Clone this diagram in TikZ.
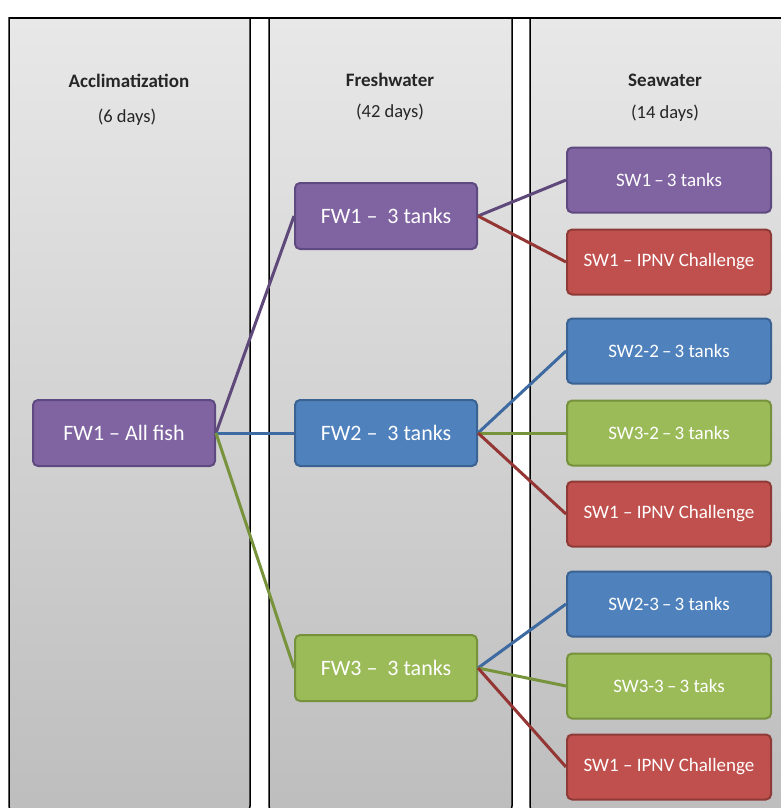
\documentclass[tikz,border=0pt]{standalone}
\usepackage{fontspec}
\setmainfont{Carlito}
\definecolor{pfill}{HTML}{8064A2}\definecolor{pdraw}{HTML}{5E4A80}\definecolor{pline}{HTML}{5F497A}
\definecolor{bfill}{HTML}{4F81BD}\definecolor{bdraw}{HTML}{3A6393}\definecolor{bline}{HTML}{3D6AA0}
\definecolor{rfill}{HTML}{C0504D}\definecolor{rdraw}{HTML}{8E3B38}\definecolor{rline}{HTML}{943634}
\definecolor{gfill}{HTML}{9BBB59}\definecolor{gdraw}{HTML}{76923C}\definecolor{gline}{HTML}{77933C}
\definecolor{coltop}{HTML}{E8E8E8}\definecolor{colbot}{HTML}{BDBDBD}
\begin{document}
\begin{tikzpicture}[x=1pt,y=-1pt,
  column/.style={draw=black,line width=1.5pt,top color=coltop,bottom color=colbot},
  head/.style={font=\fontsize{19}{22}\selectfont\bfseries,text=black!85},
  sub/.style={font=\fontsize{18.5}{22}\selectfont,text=black!85},
  fwbox/.style={rounded corners=5pt,line width=2pt,minimum width=182pt,minimum height=66pt,text=white,font=\fontsize{22}{26}\selectfont,inner sep=0pt},
  swbox/.style={rounded corners=5pt,line width=2pt,minimum width=204pt,minimum height=65pt,text=white,font=\fontsize{19}{22}\selectfont,inner sep=0pt},
  purp/.style={fill=pfill,draw=pdraw},
  blu/.style={fill=bfill,draw=bdraw},
  redd/.style={fill=rfill,draw=rdraw},
  grn/.style={fill=gfill,draw=gdraw},
  conn/.style={line width=3pt}]
\useasboundingbox (0,0) rectangle (781,808);
\fill[white] (0,0) rectangle (781,808);
% columns
\path[column] (9,18) [rounded corners=12pt] -- (9,818) -- (250,818) [sharp corners] -- (250,18) -- cycle;
\path[column] (269,18) [rounded corners=12pt] -- (269,818) -- (512,818) [sharp corners] -- (512,18) -- cycle;
\path[column] (530,18) [rounded corners=12pt] -- (530,818) -- (800,818) [sharp corners] -- (800,18) -- cycle;
\draw[line width=1.5pt] (9,18) -- (781,18);
% headers
\node[head] (h1) at (129,81) {Acclimatization};
\node[sub] (s1) at (127,117) {(6 days)};
\node[head] (h2) at (390,80) {Freshwater};
\node[sub] (s2) at (390,112) {(42 days)};
\node[head] (h3) at (665,80) {Seawater};
\node[sub] (s3) at (665,113) {(14 days)};
% nodes
\node[fwbox,purp] (all) at (124,433) {FW1 – All fish};
\node[fwbox,purp] (fw1) at (386,216) {FW1 –\ \ 3 tanks};
\node[fwbox,blu]  (fw2) at (386,433) {FW2 –\ \ 3 tanks};
\node[fwbox,grn]  (fw3) at (386,668) {FW3 –\ \ 3 tanks};
\node[swbox,purp] (sw11) at (669,180) {SW1\,–\,3 tanks};
\node[swbox,redd] (sw12) at (669,262) {SW1 – IPNV Challenge};
\node[swbox,blu]  (sw21) at (669,351) {SW2-2\,–\,3 tanks};
\node[swbox,grn]  (sw22) at (669,433) {SW3-2\,–\,3 tanks};
\node[swbox,redd] (sw23) at (669,514) {SW1 – IPNV Challenge};
\node[swbox,blu]  (sw31) at (669,604) {SW2-3\,–\,3 tanks};
\node[swbox,grn]  (sw32) at (669,686) {SW3-3\,–\,3 taks};
\node[swbox,redd] (sw33) at (669,767) {SW1 – IPNV Challenge};
% connectors
\draw[conn,pline] (all.east) -- (fw1.west);
\draw[conn,bline] (all.east) -- (fw2.west);
\draw[conn,gline] (all.east) -- (fw3.west);
\draw[conn,pline] (fw1.east) -- (sw11.west);
\draw[conn,rline] (fw1.east) -- (sw12.west);
\draw[conn,bline] (fw2.east) -- (sw21.west);
\draw[conn,gline] (fw2.east) -- (sw22.west);
\draw[conn,rline] (fw2.east) -- (sw23.west);
\draw[conn,bline] (fw3.east) -- (sw31.west);
\draw[conn,gline] (fw3.east) -- (sw32.west);
\draw[conn,rline] (fw3.east) -- (sw33.west);
\end{tikzpicture}
\end{document}
